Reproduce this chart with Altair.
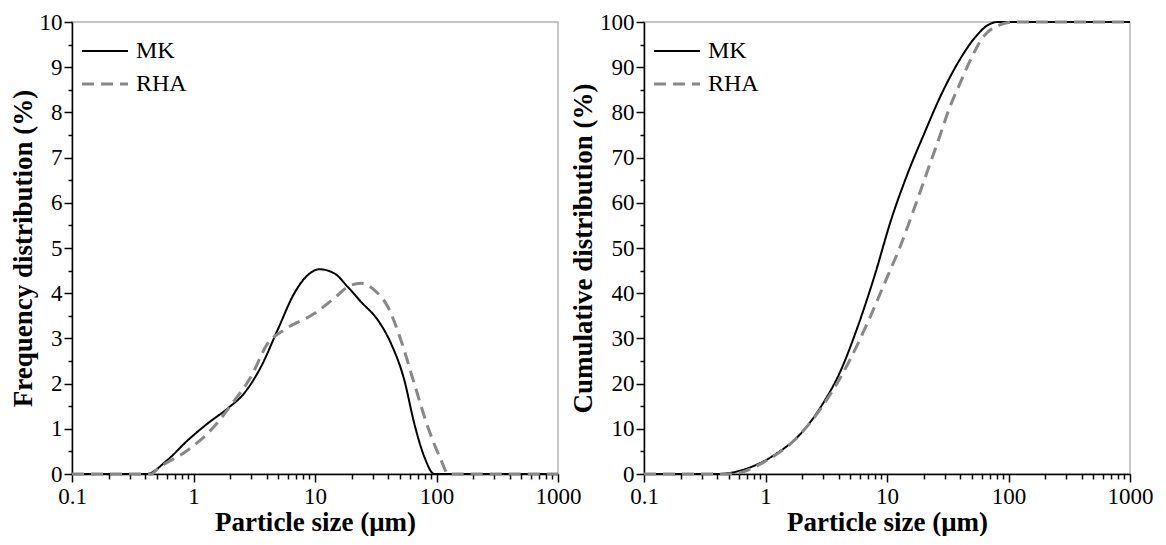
import altair as alt
import pandas as pd

# ---- data ----
series = ["MK", "RHA"]

mk_freq_x = [0.1, 0.41, 0.61, 0.90, 1.31, 1.91, 2.62, 3.59, 4.93, 6.76, 8.71, 10.9,
             14.4, 18.6, 23.9, 32.8, 42.2, 54.3, 65.6, 79.4, 96, 1000]
mk_freq_y = [0, 0, 0.31, 0.75, 1.12, 1.45, 1.79, 2.37, 3.19, 4.00, 4.40, 4.53,
             4.44, 4.14, 3.81, 3.41, 2.89, 2.08, 1.12, 0.38, 0, 0]

rha_freq_x = [0.1, 0.45, 0.51, 0.90, 1.48, 2.04, 2.97, 4.08, 5.6, 9.87, 14.4, 18.6,
              23.9, 30.8, 39.7, 51, 65.6, 84.6, 109, 125, 1000]
rha_freq_y = [0, 0, 0.12, 0.53, 1.05, 1.53, 2.15, 2.89, 3.19, 3.55, 3.89, 4.14,
              4.22, 4.07, 3.70, 2.96, 2.00, 1.05, 0.31, 0, 0]

mk_cum_x = [0.1, 0.40, 0.71, 1.18, 1.96, 2.86, 4.18, 5.74, 7.87, 10.8, 14.8, 20.3,
            27.8, 38.2, 52.4, 67.5, 81.5, 1000]
mk_cum_y = [0, 0, 1.25, 4.2, 9.0, 14.9, 23.0, 32.6, 43.7, 56.2, 66.5, 75.4,
            83.8, 90.9, 96.4, 99.3, 100, 100]

rha_cum_x = [0.1, 0.45, 0.59, 0.98, 1.73, 3.05, 4.9, 7.2, 10.2, 12.7, 15.3, 18.5,
             22.5, 27.0, 32.6, 39.4, 50, 63.2, 84, 111, 1000]
rha_cum_y = [0, 0, 0.2, 2.7, 7.5, 15.6, 25.0, 34.5, 44.0, 50.0, 55.8, 62.0,
             68.5, 74.5, 80.9, 86.1, 92.3, 97.0, 99.3, 100, 100]

x_ticks = [m * 10 ** e for e in range(-1, 3) for m in range(1, 10)] + [1000]


def frame(pairs):
    rows = []
    for name, xs, ys in pairs:
        for xv, yv in zip(xs, ys):
            rows.append({"x": xv, "y": yv, "series": name})
    return pd.DataFrame(rows)


freq_df = frame([("MK", mk_freq_x, mk_freq_y), ("RHA", rha_freq_x, rha_freq_y)])
cum_df = frame([("MK", mk_cum_x, mk_cum_y), ("RHA", rha_cum_x, rha_cum_y)])

FONT = "Liberation Serif"
X_MAJOR = "abs(log(datum.value)/LN10 - round(log(datum.value)/LN10)) < 0.000001"


def legend():
    return alt.Legend(
        title=None,
        orient="none",
        legendX=21,
        legendY=17,
        symbolType="M-3,0H3",
        symbolSize=235,
        symbolStrokeWidth=2.5,
        labelFont=FONT,
        labelFontSize=24,
        labelColor="black",
        labelOffset=19,
        rowPadding=9,
        padding=0,
    )


def panel(df, ytitle, ymax, minor_step, major_step):
    n = int(round(ymax / minor_step))
    y_ticks = [round(i * minor_step, 6) for i in range(n + 1)]
    y_major = f"abs(datum.value / {major_step} - round(datum.value / {major_step})) < 0.000001"
    return alt.Chart(df).mark_line(interpolate="monotone").encode(
        x=alt.X(
            "x:Q",
            scale=alt.Scale(type="log", domain=[0.1, 1000], nice=False),
            axis=alt.Axis(
                title="Particle size (μm)",
                values=x_ticks,
                format="~g",
                labelExpr=f"{X_MAJOR} ? datum.label : ''",
                tickSize={"condition": {"test": X_MAJOR, "value": 8}, "value": 5},
                labelFlush=False,
                labelOverlap=False,
                labelBound=False,
                grid=False,
                labelPadding=3,
                titlePadding=1,
            ),
        ),
        y=alt.Y(
            "y:Q",
            scale=alt.Scale(domain=[0, ymax], nice=False, zero=True),
            axis=alt.Axis(
                title=ytitle,
                values=y_ticks,
                format=".0f",
                labelExpr=f"{y_major} ? datum.label : ''",
                tickSize={"condition": {"test": y_major, "value": 8}, "value": 4},
                labelOverlap=False,
                grid=False,
                labelPadding=2,
                titlePadding=2,
            ),
        ),
        color=alt.Color(
            "series:N",
            scale=alt.Scale(domain=series, range=["#000000", "#888888"]),
            legend=legend(),
        ),
        strokeDash=alt.StrokeDash(
            "series:N",
            scale=alt.Scale(domain=series, range=[[1, 0], [12, 7]]),
            legend=legend(),
        ),
        strokeWidth=alt.StrokeWidth(
            "series:N",
            scale=alt.Scale(domain=series, range=[2, 3]),
            legend=None,
        ),
    ).properties(width=486, height=452)


left = panel(freq_df, "Frequency distribution (%)", 10, 0.5, 1)
right = panel(cum_df, "Cumulative distribution (%)", 100, 5, 10)

chart = alt.hconcat(left, right, spacing=86, bounds="flush").resolve_scale(
    color="independent", strokeDash="independent", strokeWidth="independent"
).properties(
    padding={"left": 0, "top": 2, "right": 0, "bottom": 0},
    background="white",
).configure_view(
    stroke="#b4b4b4", strokeWidth=1.5
).configure_axis(
    labelFont=FONT,
    labelFontSize=23,
    labelColor="black",
    titleFont=FONT,
    titleFontSize=27,
    titleFontWeight="bold",
    titleColor="black",
    domainColor="black",
    domainWidth=1.5,
    tickColor="black",
    tickWidth=1.5,
)

chart.save("out.html", embed_options={"renderer": "svg", "actions": False})
